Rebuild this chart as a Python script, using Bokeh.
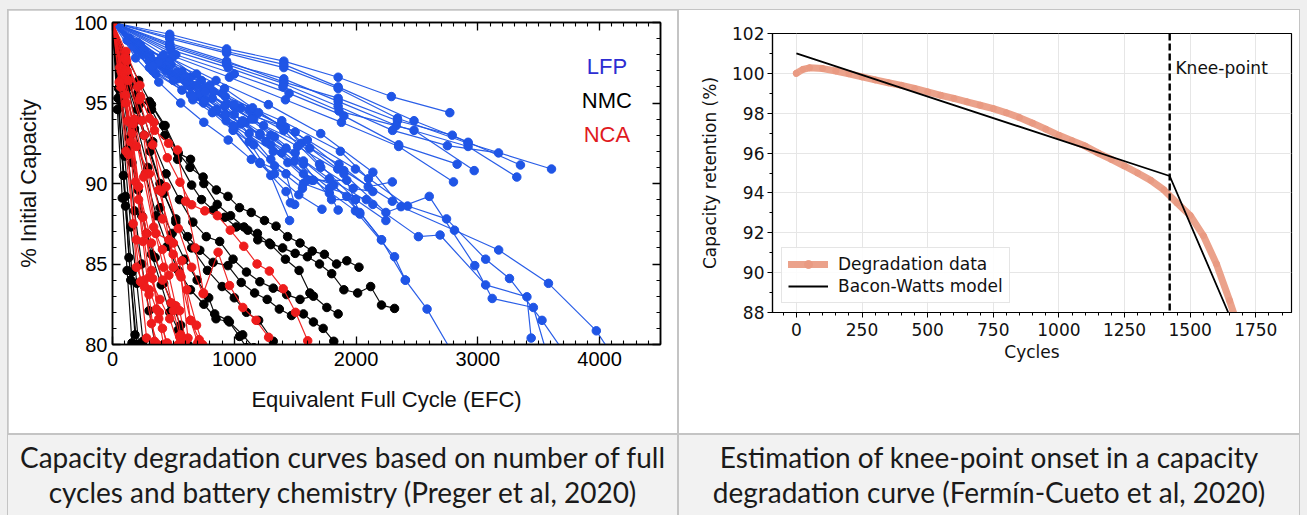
from bokeh.plotting import figure
from bokeh.models import (SingleIntervalTicker, LinearAxis, Label, Span, Legend,
                          LegendItem, Div, CustomJSTickFormatter, Spacer)
from bokeh.layouts import row, column
from bokeh.embed import file_html
from bokeh.resources import INLINE

# ---------------- Left chart data (Preger et al.) ----------------
lfp_efc = [
    [0, 470, 937, 1407, 1853, 2290, 2770],
    [0, 470, 937, 1407, 1853, 2340, 2920, 3605],
    [0, 470, 937, 1407, 1853, 2340, 2790, 3350],
    [0, 470, 937, 1407, 1853, 2330, 2920, 3320],
    [0, 470, 937, 1407, 1853, 2300, 2750, 3170],
    [0, 480, 950, 1400, 1860, 2476, 2970],
    [0, 500, 960, 1420, 1880, 2350, 2800],
    [0, 470, 937, 1407, 1853, 2476, 2920],
    [0, 520, 1000, 1450, 1900, 2350, 2830],
    [0, 207, 428, 641, 855, 1122, 1300, 1454],
    [0, 249, 481, 713, 933, 1211, 1425, 1496],
    [0, 303, 534, 748, 998, 1211, 1425, 1461],
    [0, 346, 570, 820, 1051, 1300, 1568, 1781, 1853],
    [0, 200, 481, 730, 998, 1300, 1568, 1799, 1995],
    [0, 303, 570, 855, 1122, 1390, 1639, 1924, 2031],
    [0, 356, 641, 926, 1211, 1496, 1781, 2084],
    [0, 150, 440, 784, 1051, 1407, 1710, 1977, 2138],
    [0, 481, 926, 1390, 1871, 2102],
    [0, 200, 420, 640, 900, 1150, 1420, 1700, 1995, 2245],
    [0, 250, 500, 760, 1000, 1300, 1568, 1817, 2030, 2209],
    [0, 310, 620, 930, 1240, 1550, 1860, 2100, 2298],
    [0, 380, 750, 1120, 1500, 1900, 2298],
    [0, 120, 260, 400, 530, 690, 830, 1000, 1160, 1330, 1500],
    [0, 170, 330, 500, 660, 820, 990, 1160, 1330, 1560],
    [0, 140, 290, 440, 600, 760, 920, 1090, 1260, 1440, 1600],
    [0, 230, 460, 690, 920, 1150, 1380, 1620, 1850],
    [0, 190, 380, 560, 750, 950, 1140, 1330, 1530, 1720],
    [0, 303, 606, 926, 1211, 1568, 1924, 2209, 2405, 2583, 2790],
    [0, 356, 713, 1069, 1425, 1781, 2138, 2512, 2690, 3064, 3403, 3438],
    [0, 400, 800, 1200, 1600, 1995, 2423, 2743, 3064, 3260, 3527, 3710],
    [0, 420, 850, 1280, 1710, 2138, 2369, 2808, 3171, 3580, 3973, 4090],
    [0, 380, 760, 1140, 1520, 1900, 2245, 2601, 2975, 3118, 3456, 3560],
    [0, 330, 660, 990, 1320, 1650, 1995, 2316, 2405],
]
lfp_cap = [
    [100, 99.27, 98.36, 97.6, 96.6, 95.4, 94.4],
    [100, 99.0, 98.1, 97.2, 95.9, 94.05, 92.5, 90.9],
    [100, 98.7, 97.6, 96.3, 95.3, 93.9, 93.0, 91.15],
    [100, 98.6, 97.5, 96.5, 95.1, 93.6, 92.3, 90.4],
    [100, 98.5, 97.4, 96.2, 94.8, 93.3, 92.35, 91.9],
    [100, 98.3, 97.2, 96.0, 94.5, 93.3, 90.8],
    [100, 97.9, 96.6, 95.2, 93.8, 92.3, 90.1],
    [100, 99.1, 98.2, 97.4, 96.0, 93.9, 92.56],
    [100, 98.0, 96.8, 95.6, 94.2, 92.4, 91.2],
    [100, 98.76, 97.26, 96.0, 94.5, 92.6, 90.5, 87.7],
    [100, 98.1, 96.8, 95.4, 93.9, 91.3, 90.6, 88.7],
    [100, 97.7, 96.5, 95.0, 93.4, 91.25, 89.5, 88.8],
    [100, 97.5, 96.95, 95.3, 93.7, 91.5, 90.0, 89.4, 88.35],
    [100, 98.4, 97.8, 96.4, 94.8, 93.0, 91.2, 89.0, 89.0],
    [100, 97.2, 95.8, 94.6, 93.1, 91.9, 90.2, 90.2, 88.1],
    [100, 96.8, 95.5, 94.3, 93.1, 91.4, 89.7, 89.0],
    [100, 98.8, 97.0, 95.9, 94.7, 93.3, 91.0, 89.7, 89.5],
    [100, 97.4, 95.4, 93.9, 92.0, 90.3],
    [100, 98.3, 97.2, 96.6, 95.6, 94.2, 93.5, 91.2, 89.0, 87.7],
    [100, 98.0, 96.6, 95.2, 94.3, 92.4, 90.6, 89.9, 88.2, 86.5],
    [100, 97.9, 96.1, 94.9, 93.6, 92.5, 91.2, 89.8, 90.1],
    [100, 97.6, 95.9, 94.6, 93.2, 90.8, 88.9],
    [100, 98.9, 98.3, 97.3, 96.9, 96.1, 95.7, 94.9, 94.0, 92.9, 91.9],
    [100, 98.5, 97.0, 96.4, 95.2, 94.4, 93.3, 92.4, 91.1, 89.7],
    [100, 99.0, 98.0, 97.6, 96.6, 95.9, 94.8, 93.8, 92.6, 91.3, 90.2],
    [100, 98.6, 97.6, 96.8, 95.9, 94.7, 93.6, 92.2, 90.9],
    [100, 97.8, 96.3, 95.0, 93.8, 92.7, 91.5, 90.6, 89.3, 88.4],
    [100, 97.6, 96.3, 94.3, 93.0, 91.4, 89.2, 86.5, 84.0, 82.2, 79.5],
    [100, 97.4, 95.6, 93.9, 92.2, 90.3, 88.7, 86.7, 86.8, 83.7, 82.96, 80.4],
    [100, 97.8, 96.1, 94.4, 92.7, 90.9, 88.6, 87.8, 85.3, 84.1, 81.5, 79.5],
    [100, 98.0, 96.4, 94.9, 93.1, 90.7, 88.56, 87.1, 85.87, 83.8, 80.85, 79.5],
    [100, 97.5, 95.7, 94.0, 92.3, 90.6, 88.2, 89.2, 84.9, 82.86, 82.3, 79.6],
    [100, 97.3, 95.4, 93.6, 92.0, 90.2, 88.3, 85.45, 84.0],
]

nmc_efc = [
    [0, 105, 215, 320, 432, 540, 636, 744, 853, 948, 1043, 1139, 1248, 1343, 1438, 1540, 1640, 1740, 1840, 1924, 2024],
    [0, 110, 215, 320, 430, 535, 650, 731, 826, 921, 1016, 1111, 1193, 1288, 1397, 1500, 1600, 1700, 1800, 1900, 2013, 2120, 2209, 2316],
    [0, 100, 205, 310, 420, 520, 617, 717, 826, 948, 1057, 1167, 1270, 1370, 1470, 1568, 1650, 1730, 1817],
    [0, 95, 190, 290, 390, 490, 590, 695, 790, 839, 948, 1043, 1100],
    [0, 110, 220, 330, 440, 550, 660, 770, 880, 990, 1100, 1210, 1320, 1430, 1540, 1650, 1760, 1853],
    [0, 100, 200, 303, 420, 535, 641, 750, 860, 970, 1080, 1190, 1300, 1420, 1532, 1621],
    [0, 90, 180, 270, 360, 450, 540, 640, 750, 850, 960, 1069, 1160],
    [0, 70, 140, 210, 280, 350, 420, 490, 560, 620],
    [0, 60, 120, 180, 240, 300, 350],
    [0, 50, 100, 150, 200, 250],
    [0, 45, 90, 135, 185],
    [0, 40, 80, 120, 160],
    [0, 80, 160, 240, 320, 400, 470, 540, 600],
    [0, 130, 260, 390, 520, 650, 780, 900, 1000, 1100, 1200, 1320],
    [0, 107, 160, 215],
    [0, 107, 150, 200],
]
nmc_cap = [
    [100, 98.0, 96.4, 94.9, 93.6, 91.9, 91.0, 90.4, 89.6, 89.2, 88.5, 88.2, 87.7, 87.35, 86.7, 86.3, 85.8, 85.6, 85.0, 85.2, 84.8],
    [100, 97.5, 95.4, 94.6, 93.0, 91.5, 89.9, 89.0, 88.35, 87.9, 87.3, 87.1, 86.5, 86.3, 86.0, 85.66, 85.45, 85.0, 84.4, 83.4, 83.2, 83.6, 82.45, 82.24],
    [100, 97.3, 94.6, 92.0, 89.4, 87.8, 86.7, 85.85, 85.1, 84.9, 83.85, 83.2, 82.8, 82.2, 81.8, 81.9, 81.4, 81.0, 80.2],
    [100, 97.0, 93.9, 91.0, 88.5, 86.9, 85.3, 84.0, 82.9, 81.9, 81.5, 80.5, 79.8],
    [100, 97.4, 94.9, 92.6, 90.6, 89.0, 87.6, 86.7, 86.4, 85.3, 84.5, 83.9, 83.5, 83.1, 82.8, 83.0, 82.3, 81.9],
    [100, 97.8, 95.5, 95.1, 93.6, 91.9, 91.5, 90.0, 88.7, 88.0, 87.3, 86.9, 86.2, 85.3, 84.6, 83.2],
    [100, 96.5, 93.4, 90.6, 88.0, 86.1, 84.6, 83.4, 82.5, 81.6, 81.4, 80.6, 79.8],
    [100, 96.4, 92.8, 89.6, 86.9, 85.4, 83.8, 82.5, 81.2, 80.0],
    [100, 96.0, 92.1, 88.3, 85.0, 82.1, 80.0],
    [100, 95.9, 91.7, 87.3, 83.8, 80.2],
    [100, 95.3, 90.5, 85.4, 80.6],
    [100, 94.6, 89.1, 84.6, 80.1],
    [100, 95.0, 91.3, 88.0, 85.6, 83.7, 82.0, 80.9, 80.0],
    [100, 96.0, 93.0, 90.0, 87.6, 86.0, 84.6, 83.6, 82.9, 82.0, 81.5, 80.2],
    [100, 89.2, 84.5, 80.0],
    [100, 88.6, 84.0, 80.0],
]

nca_efc = [
    [0, 110, 225, 340, 450, 554, 650, 758, 861, 967, 1078, 1187, 1288, 1402, 1503, 1603],
    [0, 110, 220, 330, 440, 540, 650, 744, 867, 961, 1070, 1179, 1282],
    [0, 115, 230, 345, 460, 534, 600, 680, 748],
    [0, 60, 125, 190, 250, 300, 345],
    [0, 70, 140, 214, 280, 330, 380, 420],
    [0, 80, 160, 249, 320, 385, 444],
    [0, 75, 150, 196, 260, 303, 360, 410, 450],
    [0, 90, 180, 270, 356, 410, 463, 520, 560],
    [0, 100, 207, 303, 400, 498, 570, 641, 712],
    [0, 95, 196, 303, 410, 498, 563, 620],
    [0, 85, 170, 255, 338, 420, 500, 552],
    [0, 110, 214, 320, 410, 480, 552, 600],
    [0, 120, 240, 356, 463, 552, 641, 700],
    [0, 65, 130, 196, 262, 320, 370],
    [0, 105, 214, 303, 390, 470, 540],
    [0, 55, 110, 170, 230, 280],
    [0, 130, 260, 380, 500, 610, 690, 740],
]
nca_cap = [
    [100, 98.2, 96.1, 93.8, 91.6, 90.08, 88.68, 88.3, 88.0, 87.1, 86.1, 85.0, 84.56, 83.46, 82.0, 80.23],
    [100, 97.8, 95.2, 92.4, 89.8, 87.2, 84.8, 83.15, 85.73, 83.66, 82.3, 81.5, 80.45],
    [100, 97.6, 95.4, 93.3, 92.5, 92.08, 88.9, 86.0, 83.2],
    [100, 97.2, 93.9, 90.1, 86.4, 83.1, 80.2],
    [100, 97.0, 93.8, 89.8, 86.9, 84.1, 81.6, 80.0],
    [100, 96.8, 93.1, 87.9, 84.6, 82.0, 80.0],
    [100, 96.5, 92.6, 86.5, 84.0, 83.4, 82.2, 81.0, 80.1],
    [100, 97.1, 94.0, 90.6, 86.9, 85.9, 84.3, 82.4, 80.6],
    [100, 97.8, 96.0, 94.05, 89.5, 84.8, 85.2, 81.5, 80.3],
    [100, 96.5, 92.3, 90.6, 87.8, 85.6, 84.2, 80.4],
    [100, 96.9, 93.7, 90.4, 87.3, 84.8, 82.1, 80.5],
    [100, 95.0, 89.8, 86.3, 84.0, 82.6, 82.1, 80.2],
    [100, 97.0, 93.9, 86.9, 86.5, 84.4, 81.5, 80.1],
    [100, 96.0, 91.8, 84.8, 83.6, 81.3, 80.0],
    [100, 95.5, 89.0, 84.2, 82.8, 81.6, 80.0],
    [100, 96.3, 92.0, 87.5, 83.9, 80.4],
    [100, 96.4, 93.0, 89.6, 86.3, 83.4, 81.2, 80.0],
]

chem_labels = ["LFP", "NMC", "NCA"]
chem_colors = ["#1f55e6", "#000000", "#ee1c1c"]
label_colors = ["#2d2dd2", "#000000", "#e01a1e"]

# ---------------- Right chart data (Fermin-Cueto et al.) ----------------
cycles = [0, 25, 50, 100, 150, 200, 250, 300, 350, 400, 450, 500, 550, 600, 650,
          700, 750, 800, 850, 900, 950, 1000, 1050, 1100, 1150, 1200, 1250, 1300,
          1350, 1400, 1450, 1500, 1550, 1600, 1650, 1670]
retention = [100.0, 100.2, 100.28, 100.24, 100.12, 99.98, 99.82, 99.67, 99.53, 99.4,
             99.24, 99.07, 98.9, 98.74, 98.57, 98.4, 98.23, 98.02, 97.78, 97.5, 97.2,
             96.89, 96.62, 96.35, 96.0, 95.68, 95.35, 95.0, 94.63, 94.15, 93.5, 92.87,
             91.86, 90.44, 88.6, 87.8]
bw_cycles = [0, 1422, 1645]
bw_retention = [101.0, 94.85, 88.0]
knee_cycle = 1422

captions = [
    ["Capacity degradation curves based on number of full",
     "cycles and battery chemistry (Preger et al, 2020)"],
    ["Estimation of knee-point onset in a capacity",
     "degradation curve (Fermín-Cueto et al, 2020)"],
]

blank = CustomJSTickFormatter(code="return ''")

# ---------------- Left figure ----------------
LF = "Liberation Sans"
p1 = figure(width=669, height=423, x_range=(0, 4500), y_range=(80, 100),
            output_backend="svg", toolbar_location=None,
            min_border_left=104, min_border_right=17, min_border_top=12,
            min_border_bottom=89, outline_line_color="black", outline_line_width=1.5,
            background_fill_color="white", border_fill_color="white")
p1.xgrid.visible = False
p1.ygrid.visible = False
p1.xaxis.ticker = SingleIntervalTicker(interval=1000, num_minor_ticks=10)
p1.yaxis.ticker = SingleIntervalTicker(interval=5, num_minor_ticks=5)
top_ax = LinearAxis(ticker=SingleIntervalTicker(interval=1000, num_minor_ticks=10),
                    formatter=blank, major_label_standoff=0)
right_ax = LinearAxis(ticker=SingleIntervalTicker(interval=5, num_minor_ticks=5),
                      formatter=blank, major_label_standoff=0)
p1.add_layout(top_ax, "above")
p1.add_layout(right_ax, "right")
for ax in p1.axis:
    ax.major_tick_in = 8
    ax.major_tick_out = 0
    ax.minor_tick_in = 4
    ax.minor_tick_out = 0
    ax.axis_line_width = 1.5
    ax.major_tick_line_width = 1.3
    ax.minor_tick_line_width = 1.1
    ax.major_label_text_font = LF
    ax.major_label_text_font_size = "20px"
    ax.major_label_text_color = "black"
    ax.axis_label_text_font = LF
    ax.axis_label_text_font_size = "22px"
    ax.axis_label_text_font_style = "normal"
    ax.axis_label_text_color = "#111111"
bx = p1.below[0]
ly = p1.left[0]
bx.axis_label = "Equivalent Full Cycle (EFC)"
bx.major_label_standoff = 7
bx.axis_label_standoff = 18
ly.axis_label = "% Initial Capacity"
ly.major_label_standoff = 5
ly.axis_label_standoff = 30

for efc_sets, cap_sets, col in zip([lfp_efc, nmc_efc, nca_efc],
                                   [lfp_cap, nmc_cap, nca_cap], chem_colors):
    for xs, ys in zip(efc_sets, cap_sets):
        p1.line(xs, ys, line_color=col, line_width=1.2, line_alpha=0.95)
        p1.scatter(xs, ys, size=8.5, fill_color=col, line_color=col)

label_y = [97.27, 95.15, 93.05]
for txt, yv, c in zip(chem_labels, label_y, label_colors):
    p1.add_layout(Label(x=4060, y=yv, text=txt, text_align="center",
                        text_baseline="middle", text_font=LF,
                        text_font_size="22px", text_color=c))

# ---------------- Right figure ----------------
DF = "DejaVu Sans"
p2 = figure(width=620, height=380, x_range=(-91, 1886), y_range=(88, 102),
            output_backend="svg", toolbar_location=None,
            min_border_left=93, min_border_right=8, min_border_top=12,
            min_border_bottom=89, outline_line_color="black", outline_line_width=1.2,
            background_fill_color="white", border_fill_color="white")
p2.xaxis.ticker = SingleIntervalTicker(interval=250, num_minor_ticks=5)
p2.yaxis.ticker = SingleIntervalTicker(interval=2, num_minor_ticks=2)
p2.grid.grid_line_color = "#e6e6e6"
p2.grid.grid_line_width = 1
for ax in p2.axis:
    ax.major_tick_in = 0
    ax.major_tick_out = 5
    ax.minor_tick_in = 0
    ax.minor_tick_out = 3
    ax.axis_line_width = 1.2
    ax.major_label_text_font = DF
    ax.major_label_text_font_size = "17px"
    ax.major_label_text_color = "#111111"
    ax.axis_label_text_font = DF
    ax.axis_label_text_font_size = "17px"
    ax.axis_label_text_font_style = "normal"
    ax.axis_label_text_color = "#111111"
p2.xaxis.axis_label = "Cycles"
p2.xaxis.major_label_standoff = 5
p2.xaxis.axis_label_standoff = 3
p2.yaxis.axis_label = "Capacity retention (%)"
p2.yaxis.major_label_standoff = 3
p2.yaxis.axis_label_standoff = 9

deg_line = p2.line(cycles, retention, line_color="#eba28b", line_width=7,
                   line_cap="round", line_join="round")
deg_pts = p2.scatter(cycles, retention, size=6, fill_color="#e99a82",
                     line_color="#e99a82")
bw_line = p2.line(bw_cycles, bw_retention, line_color="black", line_width=1.8)
p2.add_layout(Span(location=knee_cycle, dimension="height", line_color="black",
                   line_width=2.4, line_dash="7 3"))
p2.add_layout(Label(x=1444, y=100.27, text="Knee-point", text_baseline="middle",
                    text_font=DF, text_font_size="17px", text_color="#111111"))
legend = Legend(items=[LegendItem(label="Degradation data", renderers=[deg_line, deg_pts]),
                       LegendItem(label="Bacon-Watts model", renderers=[bw_line])],
                location="bottom_left", margin=9, padding=6, spacing=2,
                glyph_width=40, glyph_height=20, label_standoff=10,
                label_text_font=DF, label_text_font_size="17px",
                label_text_color="#111111", border_line_color="#cccccc",
                border_line_width=1.2, background_fill_alpha=0.85)
p2.add_layout(legend)

right_cell = column(Spacer(width=620, height=11, styles={"background-color": "white"}),
                    p2,
                    Spacer(width=620, height=32, styles={"background-color": "white"}),
                    spacing=0, styles={"background-color": "white"})

# ---------------- Captions ----------------
def caption_div(lines, w):
    html = ('<div style="width:%dpx;text-align:center;white-space:nowrap;'
            'font-family:Lato,\'Open Sans\',sans-serif;'
            'font-size:28px;line-height:35px;padding-top:5px;color:#1a1a1a;">%s</div>'
            % (w, "<br>".join(lines)))
    return Div(text=html, width=w, height=80, margin=0,
               styles={"background-color": "#f2f2f2", "overflow": "hidden"})

d1 = caption_div(captions[0], 669)
d2 = caption_div(captions[1], 620)

top = row(p1, right_cell, spacing=2)
bottom = row(d1, d2, spacing=2)
table = column(top, bottom, spacing=2,
               styles={"background-color": "#c4c4c4", "padding": "1px 1px 0 1px"})
page = column(table, styles={"background-color": "#efefef",
                             "padding": "9px 7px 0 7px"})

open("out.html", "w").write(file_html(page, INLINE))
